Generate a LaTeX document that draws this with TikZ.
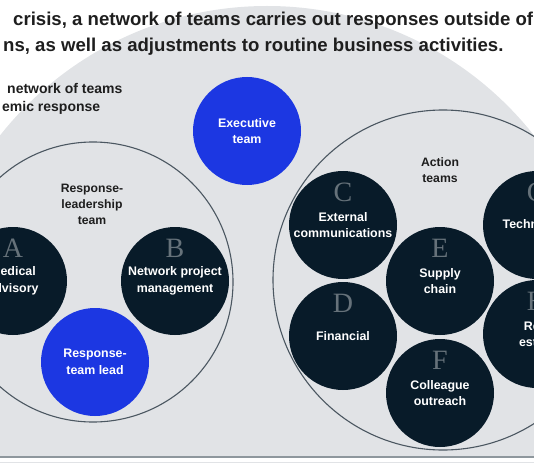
\documentclass[tikz,border=0pt]{standalone}
\usepackage{fontspec}
\setmainfont{Liberation Sans}
\newfontfamily\letterfont{Liberation Serif}
\usetikzlibrary{positioning}
\definecolor{cnavy}{HTML}{081B29}
\definecolor{cblue}{HTML}{1C37E2}
\definecolor{cgray}{HTML}{E1E3E6}
\definecolor{cring}{HTML}{4B5761}
\definecolor{cletter}{HTML}{66727A}
\definecolor{ctext}{HTML}{1E1E1E}
\definecolor{crule}{HTML}{8E979D}

\begin{document}
\begin{tikzpicture}[x=1pt,y=-1pt,
  team/.style={circle,fill=cnavy,text=white,minimum size=108pt,inner sep=0pt,
               align=center,font=\bfseries\fontsize{12.4}{16.5}\selectfont},
  leadteam/.style={team,fill=cblue},
  tletter/.style={inner sep=0pt,text=cletter,font=\letterfont\fontsize{28}{28}\selectfont},
  ring/.style={circle,draw=cring,line width=1.1pt,inner sep=0pt},
  grouplabel/.style={align=center,text=ctext,font=\bfseries\fontsize{12.2}{16}\selectfont},
  headline/.style={anchor=base west,inner sep=0pt,text=ctext,font=\bfseries\fontsize{18.6}{25}\selectfont},
  sublabel/.style={anchor=base west,inner sep=0pt,text=ctext,font=\bfseries\fontsize{14}{18}\selectfont}]
  \useasboundingbox (0,0) rectangle (534,462);
  \clip (0,0) rectangle (534,462);
  % background
  \fill[cgray] (267,346) circle[radius=340];
  \fill[white] (0,457) rectangle (534,462);
  \draw[crule,line width=1.2pt] (0,457) -- (534,457);
  % texts at the top
  \node[headline] (head1) at (13,26) {crisis, a network of teams carries out responses outside of};
  \node[headline] (head2) at (3,52) {ns, as well as adjustments to routine business activities.};
  \node[sublabel] (sub1) at (7,94) {network of teams};
  \node[sublabel] (sub2) at (2,112) {emic response};
  % response-leadership team
  \node[ring,minimum size=280pt] (rlt) at (93,282) {};
  \node[grouplabel] (rltlabel) at (92,204) {Response-\\leadership\\team};
  \node[leadteam] (exec) at (247,131) {Executive\\team};
  \node[team] (med) at (13,281) {Medical\\advisory};
  \node[team] (npm) at (175,281) {Network project\\management};
  \node[leadteam] (lead) at (95,362) {Response-\\team lead};
  % action teams
  \node[ring,minimum size=340pt] (act) at (443,280) {};
  \node[grouplabel] (actlabel) at (440,170) {Action\\teams};
  \node[team] (ext) at (343,225) {External\\communications};
  \node[team] (fin) at (343,336) {Financial};
  \node[team] (sup) at (440,281) {Supply\\chain};
  \node[team] (col) at (440,393) {Colleague\\outreach};
  \node[team] (tech) at (537,225) {Technology};
  \node[team] (est) at (537,334) {Real\\estate};
  \foreach \t/\l in {med/A,npm/B,ext/C,fin/D,sup/E,col/F,tech/G,est/H}
    \node[tletter] at ([yshift=33pt]\t.center) {\l};
\end{tikzpicture}
\end{document}
